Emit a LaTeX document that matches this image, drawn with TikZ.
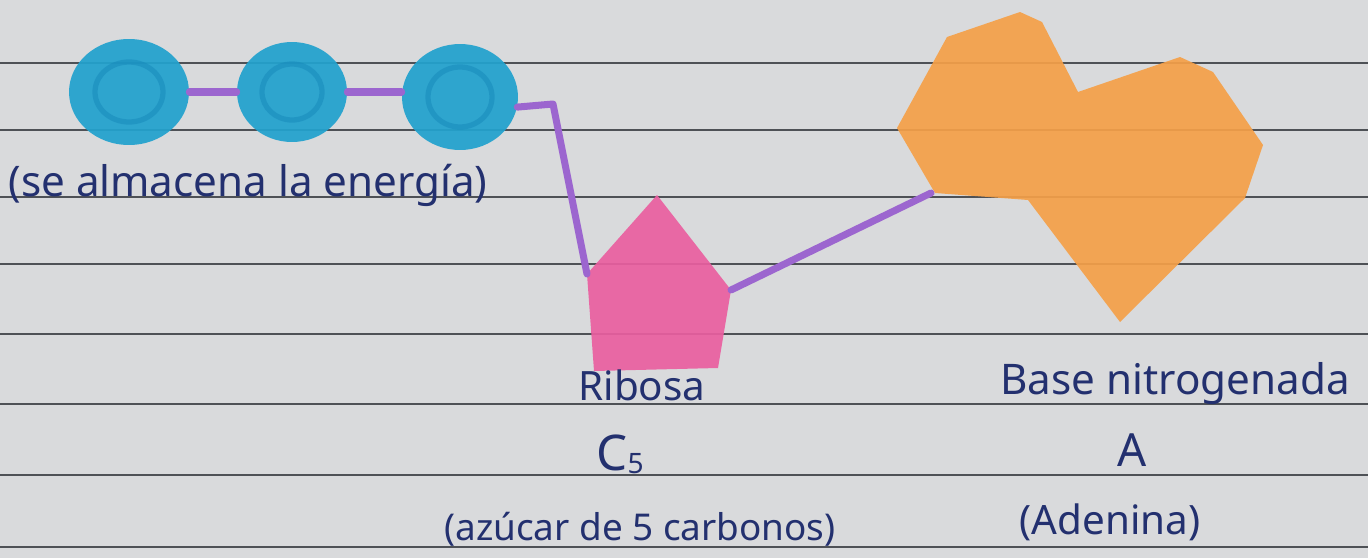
\documentclass[tikz,border=0pt]{standalone}
\usepackage{fontspec}
\setmainfont{Noto Sans}
\usetikzlibrary{shapes.geometric}
\definecolor{paper}{HTML}{D9DADC}
\definecolor{rule}{HTML}{4E5156}
\definecolor{pblue}{HTML}{22A2CE}
\definecolor{pblue2}{HTML}{1688BA}
\definecolor{ppurple}{HTML}{9C66CF}
\definecolor{ppink}{HTML}{EA5FA0}
\definecolor{porange}{HTML}{F5A048}
\definecolor{ink}{HTML}{23306F}
\begin{document}
\begin{tikzpicture}[x=0.02cm,y=-0.02cm,
 phos/.style={ellipse, fill=pblue, draw=none, inner sep=0, fill opacity=0.93},
 ring/.style={draw=pblue2, line width=3pt, opacity=0.5},
 bond/.style={draw=ppurple, line width=4pt, line cap=round, line join=round},
 hand/.style={text=ink, inner sep=0, anchor=base},
 ruling/.style={draw=rule, line width=0.8pt}]
\fill[paper] (0,0) rectangle (1368,558);
\useasboundingbox (0,0) rectangle (1368,558);
\foreach \y in {63,130,197,264,334,404,475,547} \draw[ruling] (0,\y) -- (1368,\y);
% phosphate groups
\node[phos, minimum width=2.4cm, minimum height=2.12cm] (c1) at (129,92) {};
\node[phos, minimum width=2.2cm, minimum height=2.0cm] (c2) at (292,92) {};
\node[phos, minimum width=2.32cm, minimum height=2.12cm] (c3) at (460,97) {};
\draw[ring] (c1.center) ellipse (34 and 30);
\draw[ring] (c2.center) ellipse (30 and 28);
\draw[ring] (c3.center) ellipse (32 and 30);
% ribose
\coordinate (rt) at (657,195);
\coordinate (rr) at (731,290);
\coordinate (rbr) at (718,368);
\coordinate (rbl) at (594,371);
\coordinate (rl) at (587,274);
\fill[ppink, fill opacity=0.92] (rt) -- (rr) -- (rbr) -- (rbl) -- (rl) -- cycle;
% base
\fill[porange, fill opacity=0.92] (897,128) -- (947,37) -- (1020,12) -- (1042,22) -- (1078,92) -- (1180,57) -- (1213,72) -- (1263,145) -- (1245,198) -- (1120,322) -- (1028,200) -- (935,193) -- cycle;
\coordinate (bl) at (931,193);
% bonds
\coordinate (k) at (553,104);
\draw[bond] (c1.east) -- (c2.west);
\draw[bond] (c2.east) -- (c2.east -| c3.west);
\draw[bond] (c3.-10) -- (k) -- (rl);
\draw[bond] (rr) -- (bl);
% labels
\node[hand, font=\fontsize{24}{27}\selectfont] (t1) at (248,196) {(se almacena la energía)};
\node[hand, font=\fontsize{23}{26}\selectfont] (t2) at (642,400) {Ribosa};
\node[hand, font=\fontsize{28}{30}\selectfont] (t3) at (620,470) {C\raisebox{-0.15ex}{\fontsize{16}{18}\selectfont 5}};
\node[hand, font=\fontsize{21}{24}\selectfont] (t4) at (640,540) {(azúcar de 5 carbonos)};
\node[hand, font=\fontsize{24}{26}\selectfont] (t5) at (1175,394) {Base nitrogenada};
\node[hand, font=\fontsize{26}{28}\selectfont] (t6) at (1132,466) {A};
\node[hand, font=\fontsize{23}{26}\selectfont] (t7) at (1110,534) {(Adenina)};
\end{tikzpicture}
\end{document}
